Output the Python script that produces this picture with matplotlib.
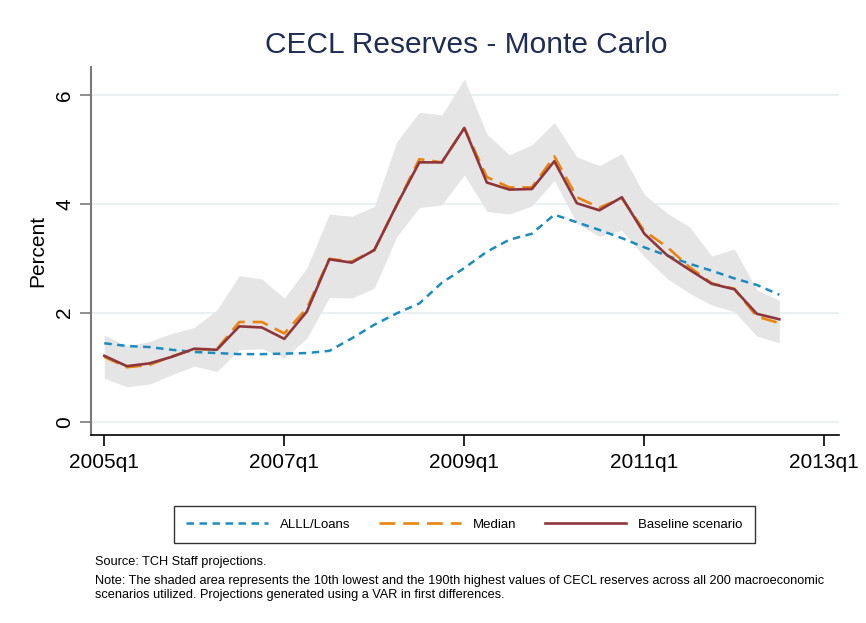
"""
CECL reserves - Monte Carlo fan chart (Stata-like styling).
"""
import matplotlib
matplotlib.use('Agg')
import matplotlib.pyplot as plt
import numpy as np

plt.rcParams['font.family'] = ['Liberation Sans', 'DejaVu Sans']

# Quarterly data, 2005q1 .. 2012q3 (index 0 = 2005q1)
quarters = list(range(31))
tick_pos = [0, 8, 16, 24, 32]
tick_labels = ['2005q1', '2007q1', '2009q1', '2011q1', '2013q1']

baseline = [1.21, 1.02, 1.07, 1.19, 1.34, 1.32, 1.75, 1.73, 1.52, 2.02, 2.98,
            2.92, 3.15, 3.98, 4.76, 4.76, 5.39, 4.39, 4.26, 4.27, 4.78, 4.01,
            3.88, 4.12, 3.45, 3.06, 2.79, 2.53, 2.43, 1.98, 1.88]
median = [1.19, 1.00, 1.04, 1.20, 1.33, 1.33, 1.83, 1.83, 1.62, 2.08, 2.99,
          2.94, 3.15, 3.98, 4.82, 4.76, 5.39, 4.49, 4.30, 4.30, 4.87, 4.12,
          3.93, 4.10, 3.50, 3.21, 2.84, 2.54, 2.44, 1.93, 1.81]
upper = [1.59, 1.39, 1.47, 1.62, 1.73, 2.05, 2.68, 2.62, 2.27, 2.82, 3.81,
         3.77, 3.95, 5.14, 5.68, 5.63, 6.29, 5.28, 4.90, 5.08, 5.49, 4.86,
         4.70, 4.92, 4.17, 3.83, 3.58, 3.04, 3.17, 2.42, 2.23]
lower = [0.80, 0.64, 0.69, 0.86, 1.02, 0.92, 1.32, 1.34, 1.17, 1.53, 2.28,
         2.27, 2.45, 3.40, 3.93, 3.98, 4.53, 3.86, 3.81, 3.96, 4.43, 3.64,
         3.40, 3.51, 3.03, 2.63, 2.36, 2.14, 2.02, 1.57, 1.45]
alll = [1.44, 1.39, 1.37, 1.32, 1.28, 1.26, 1.24, 1.24, 1.25, 1.26, 1.30,
        1.53, 1.78, 1.99, 2.17, 2.55, 2.82, 3.12, 3.34, 3.45, 3.80, 3.66,
        3.52, 3.37, 3.20, 3.05, 2.90, 2.77, 2.63, 2.51, 2.33]

W, H = 866, 623
fig = plt.figure(figsize=(W / 100, H / 100), dpi=100)
ax = fig.add_axes([91 / W, 1 - 435 / H, (839 - 91) / W, (435 - 67) / H])

# Shaded band and series
ax.fill_between(quarters, lower, upper, color='#e5e5e5', linewidth=0, zorder=1)
ax.plot(quarters, alll, color='#1a8cc0', linewidth=1.8, dashes=(3, 2.2),
        label='ALLL/Loans', zorder=3)
ax.plot(quarters, median, color='#e8850f', linewidth=1.9, dashes=(6, 3),
        label='Median', zorder=4)
ax.plot(quarters, baseline, color='#8f363c', linewidth=1.9,
        label='Baseline scenario', zorder=5)

# Axes formatting
ax.set_xlim(-0.59, 32.65)
ax.set_ylim(-0.244, 6.51)
ax.set_yticks([0, 2, 4, 6])
ax.set_yticklabels(['0', '2', '4', '6'], rotation=90, va='center')
ax.set_xticks(tick_pos)
ax.set_xticklabels(tick_labels)
ax.tick_params(axis='both', labelsize=15, length=8, width=1.2)
ax.tick_params(axis='y', colors='#7a7a7a', labelcolor='black', pad=4)
ax.tick_params(axis='x', colors='black', pad=5)
ax.grid(axis='y', color='#e8f0f2', linewidth=1.3, zorder=0)
ax.set_axisbelow(True)
for side in ['top', 'right']:
    ax.spines[side].set_visible(False)
ax.spines['left'].set_color('#7a7a7a')
ax.spines['left'].set_linewidth(1.5)
ax.spines['bottom'].set_color('black')
ax.spines['bottom'].set_linewidth(1.2)
ax.set_ylabel('Percent', fontsize=15, labelpad=6)

fig.text(466 / W, 1 - 45 / H, 'CECL Reserves - Monte Carlo', fontsize=21.5,
         color='#1f2d55', ha='center', va='center')

# Legend
leg = fig.legend(loc='center', bbox_to_anchor=(464.5 / W, 1 - 524.5 / H),
                 ncol=3, fontsize=9.5, frameon=True, fancybox=False,
                 handlelength=6.2, handletextpad=0.9, columnspacing=2.15,
                 borderpad=0.95)
leg.get_frame().set_edgecolor('black')
leg.get_frame().set_linewidth(1.0)

# Footnotes
fig.text(95 / W, 1 - 562 / H, 'Source: TCH Staff projections.', fontsize=9.2,
         ha='left', va='center')
fig.text(95 / W, 1 - 588 / H,
         'Note: The shaded area represents the 10th lowest and the 190th highest '
         'values of CECL reserves across all 200 macroeconomic\n'
         'scenarios utilized. Projections generated using a VAR in first differences.',
         fontsize=9.2, ha='left', va='center', linespacing=1.3)

fig.savefig('out.png', dpi=100, facecolor='white')
